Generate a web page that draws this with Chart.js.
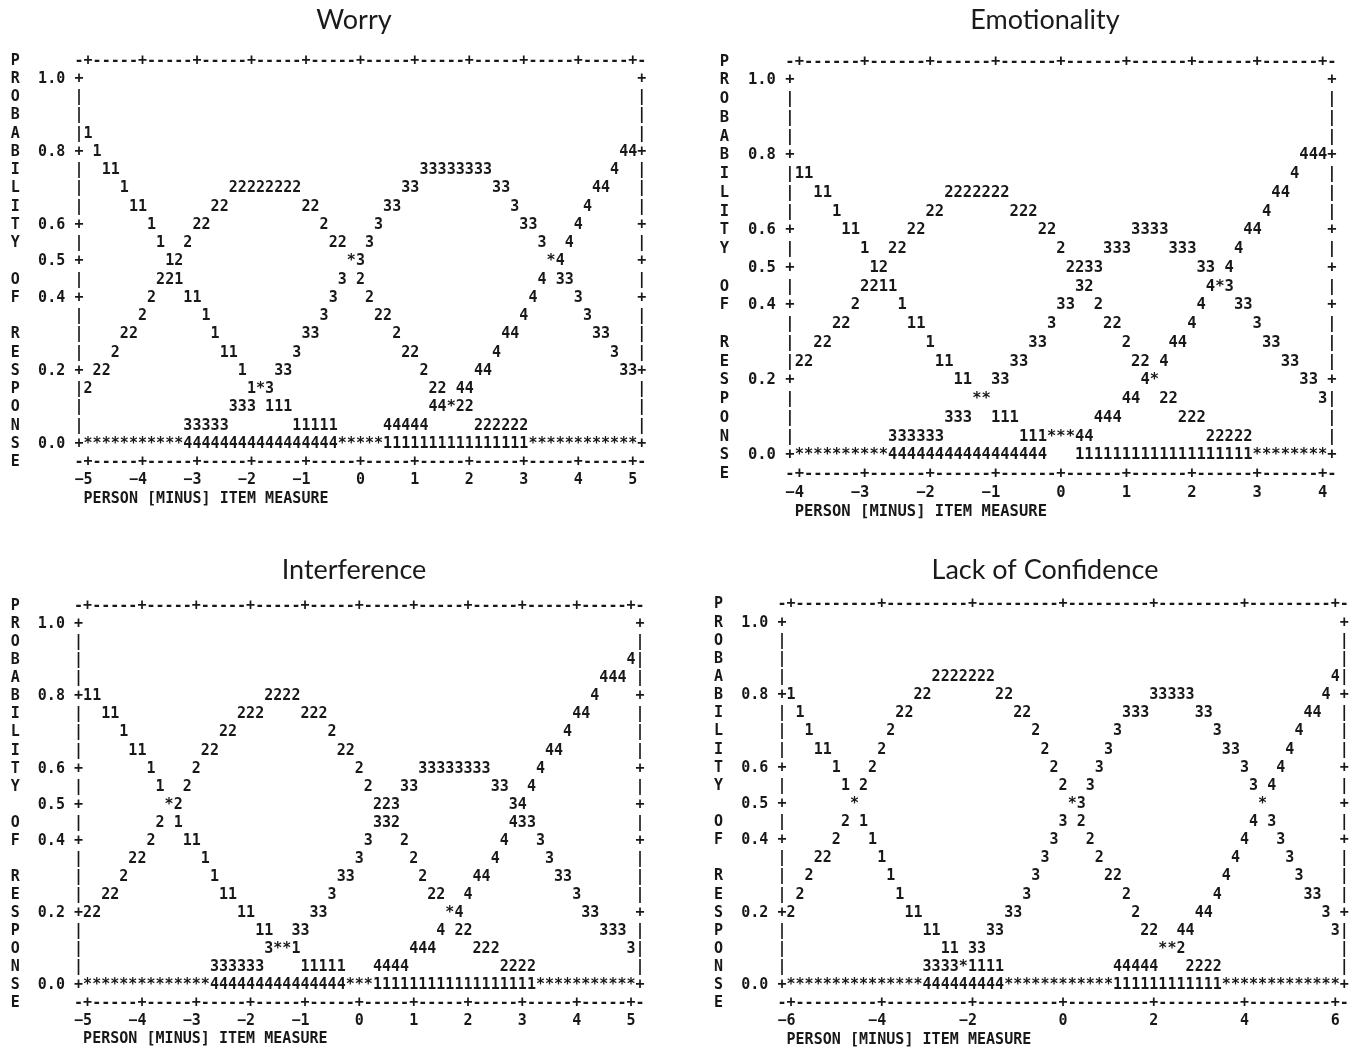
<!DOCTYPE html>
<html>
<head>
<meta charset="utf-8">
<title>Category probability curves</title>
<script src="https://cdn.jsdelivr.net/npm/chart.js@4.4.1/dist/chart.umd.min.js"></script>
<style>
  html, body { margin: 0; padding: 0; background: #ffffff; }
  #board { position: relative; width: 1353px; height: 1049px; overflow: hidden; }
  .panel { position: absolute; }
  .panel canvas { display: block; }
</style>
</head>
<body>
<div id="board">
  <div class="panel" style="left:0px;top:0px;"><canvas id="worry" width="708" height="540"></canvas></div>
  <div class="panel" style="left:676px;top:0px;"><canvas id="emotionality" width="738" height="540"></canvas></div>
  <div class="panel" style="left:0px;top:550px;"><canvas id="interference" width="708" height="499"></canvas></div>
  <div class="panel" style="left:676px;top:550px;"><canvas id="confidence" width="738" height="499"></canvas></div>
</div>
<script>
// ---- Response categories ----
const categories = ['1', '2', '3', '4'];

// ---- Axis labels ----
const probTicks = [1.0, 0.8, 0.6, 0.5, 0.4, 0.2, 0.0];
const probTickLabels = ['1.0', '0.8', '0.6', '0.5', '0.4', '0.2', '0.0'];
const yAxisTitle = 'PROBABILITY OF RESPONSE';
const xAxisTitle = 'PERSON [MINUS] ITEM MEASURE';

const worryTicks = [-5, -4, -3, -2, -1, 0, 1, 2, 3, 4, 5];
const emotionalityTicks = [-4, -3, -2, -1, 0, 1, 2, 3, 4];
const interferenceTicks = [-5, -4, -3, -2, -1, 0, 1, 2, 3, 4, 5];
const confidenceTicks = [-6, -4, -2, 0, 2, 4, 6];

// ---- Worry: probability of each category at each plotted column ----
const worryCat1 = [
  .85, .80, .75, .75, .70, .65, .65, .60, .55, .50,
  .45, .40, .40, .35, .30, .25, .25, .20, .15, .15,
  .10, .10, .10, .05, .05, .05, .05, .05, 0, 0,
  0, 0, 0, 0, 0, 0, 0, 0, 0, 0,
  0, 0, 0, 0, 0, 0, 0, 0, 0, 0,
  0, 0, 0, 0, 0, 0, 0, 0, 0, 0,
  0];
const worryCat2 = [
  .15, .20, .20, .25, .30, .30, .35, .40, .45, .45,
  .50, .55, .60, .60, .65, .65, .70, .70, .70, .70,
  .70, .70, .70, .70, .65, .65, .60, .55, .55, .50,
  .45, .40, .35, .35, .30, .25, .25, .20, .15, .15,
  .10, .10, .10, .05, .05, .05, .05, .05, .05, 0,
  0, 0, 0, 0, 0, 0, 0, 0, 0, 0,
  0];
const worryCat3 = [
  0, 0, 0, 0, 0, 0, 0, 0, 0, 0,
  0, .05, .05, .05, .05, .05, .10, .10, .10, .15,
  .15, .20, .20, .25, .30, .30, .35, .40, .45, .50,
  .50, .55, .60, .65, .65, .70, .70, .75, .75, .75,
  .75, .75, .75, .75, .75, .70, .70, .65, .60, .60,
  .55, .50, .45, .45, .40, .35, .30, .30, .25, .20,
  .20];
const worryCat4 = [
  0, 0, 0, 0, 0, 0, 0, 0, 0, 0,
  0, 0, 0, 0, 0, 0, 0, 0, 0, 0,
  0, 0, 0, 0, 0, 0, 0, 0, 0, 0,
  0, 0, 0, .05, .05, .05, .05, .05, .10, .10,
  .10, .15, .15, .20, .20, .25, .30, .30, .35, .40,
  .45, .50, .50, .55, .60, .65, .70, .70, .75, .80,
  .80];

// ---- Emotionality ----
const emotionalityCat1 = [
  .75, .75, .70, .70, .65, .60, .60, .55, .50, .45,
  .45, .40, .35, .35, .30, .25, .25, .20, .20, .15,
  .15, .10, .10, .10, .05, .05, .05, .05, .05, .05,
  0, 0, 0, 0, 0, 0, 0, 0, 0, 0,
  0, 0, 0, 0, 0, 0, 0, 0, 0, 0,
  0, 0, 0, 0, 0, 0, 0];
const emotionalityCat2 = [
  .25, .25, .30, .30, .35, .35, .40, .45, .45, .50,
  .55, .55, .60, .60, .65, .65, .70, .70, .70, .70,
  .70, .70, .70, .65, .65, .65, .60, .60, .55, .50,
  .50, .45, .40, .35, .35, .30, .25, .25, .20, .15,
  .15, .10, .10, .10, .05, .05, .05, .05, .05, 0,
  0, 0, 0, 0, 0, 0, 0];
const emotionalityCat3 = [
  0, 0, 0, 0, 0, 0, 0, 0, 0, 0,
  .05, .05, .05, .05, .05, .05, .10, .10, .10, .15,
  .15, .20, .20, .25, .25, .30, .30, .35, .40, .40,
  .45, .50, .50, .55, .55, .55, .60, .60, .60, .60,
  .55, .55, .55, .50, .50, .45, .45, .40, .40, .35,
  .30, .30, .25, .25, .20, .20, .15];
const emotionalityCat4 = [
  0, 0, 0, 0, 0, 0, 0, 0, 0, 0,
  0, 0, 0, 0, 0, 0, 0, 0, 0, 0,
  0, 0, 0, 0, 0, 0, 0, .05, .05, .05,
  .05, .05, .10, .10, .10, .15, .15, .20, .20, .25,
  .30, .30, .35, .40, .45, .45, .50, .55, .60, .60,
  .65, .70, .70, .75, .80, .80, .80];

// ---- Interference ----
const interferenceCat1 = [
  .80, .80, .75, .75, .70, .65, .65, .60, .55, .50,
  .45, .40, .40, .35, .30, .25, .25, .20, .20, .15,
  .15, .10, .10, .10, .05, .05, .05, .05, .05, 0,
  0, 0, 0, 0, 0, 0, 0, 0, 0, 0,
  0, 0, 0, 0, 0, 0, 0, 0, 0, 0,
  0, 0, 0, 0, 0, 0, 0, 0, 0, 0,
  0];
const interferenceCat2 = [
  .20, .20, .25, .25, .30, .35, .35, .40, .45, .50,
  .50, .55, .60, .65, .65, .70, .70, .75, .75, .75,
  .80, .80, .80, .80, .75, .75, .75, .70, .65, .65,
  .60, .55, .50, .50, .45, .40, .35, .30, .25, .25,
  .20, .15, .15, .10, .10, .10, .05, .05, .05, .05,
  0, 0, 0, 0, 0, 0, 0, 0, 0, 0,
  0];
const interferenceCat3 = [
  0, 0, 0, 0, 0, 0, 0, 0, 0, 0,
  0, 0, 0, 0, .05, .05, .05, .05, .05, .05,
  .10, .10, .10, .15, .15, .20, .20, .25, .30, .30,
  .35, .40, .45, .45, .50, .55, .55, .60, .60, .60,
  .60, .60, .60, .60, .60, .55, .55, .50, .45, .45,
  .40, .35, .30, .30, .25, .20, .20, .15, .15, .15,
  .10];
const interferenceCat4 = [
  0, 0, 0, 0, 0, 0, 0, 0, 0, 0,
  0, 0, 0, 0, 0, 0, 0, 0, 0, 0,
  0, 0, 0, 0, 0, 0, 0, 0, 0, 0,
  0, 0, .05, .05, .05, .05, .10, .10, .10, .15,
  .20, .20, .25, .30, .30, .35, .40, .45, .50, .55,
  .60, .65, .65, .70, .75, .75, .80, .85, .85, .85,
  .90];

// ---- Lack of Confidence ----
const confidenceCat1 = [
  .80, .75, .70, .65, .65, .60, .55, .50, .45, .40,
  .35, .30, .25, .20, .20, .15, .15, .10, .10, .05,
  .05, .05, .05, .05, 0, 0, 0, 0, 0, 0,
  0, 0, 0, 0, 0, 0, 0, 0, 0, 0,
  0, 0, 0, 0, 0, 0, 0, 0, 0, 0,
  0, 0, 0, 0, 0, 0, 0, 0, 0, 0,
  0];
const confidenceCat2 = [
  .20, .25, .30, .35, .35, .40, .45, .50, .55, .60,
  .65, .70, .75, .75, .80, .80, .85, .85, .85, .85,
  .85, .85, .85, .80, .80, .75, .75, .70, .65, .60,
  .55, .50, .45, .40, .35, .30, .30, .25, .20, .15,
  .15, .10, .10, .10, .05, .05, .05, .05, 0, 0,
  0, 0, 0, 0, 0, 0, 0, 0, 0, 0,
  0];
const confidenceCat3 = [
  0, 0, 0, 0, 0, 0, 0, 0, 0, 0,
  0, 0, 0, 0, 0, .05, .05, .05, .05, .05,
  .10, .10, .15, .15, .20, .20, .25, .30, .35, .40,
  .45, .50, .50, .55, .60, .65, .70, .75, .75, .75,
  .80, .80, .80, .80, .80, .75, .75, .70, .65, .65,
  .60, .55, .50, .45, .40, .35, .30, .25, .25, .20,
  .15];
const confidenceCat4 = [
  0, 0, 0, 0, 0, 0, 0, 0, 0, 0,
  0, 0, 0, 0, 0, 0, 0, 0, 0, 0,
  0, 0, 0, 0, 0, 0, 0, 0, 0, 0,
  0, 0, 0, 0, 0, 0, .05, .05, .05, .05,
  .05, .10, .10, .15, .15, .20, .20, .25, .30, .35,
  .40, .45, .50, .55, .60, .65, .70, .75, .75, .80,
  .85];

// Measure value of every character column of a text-mode plot.
function columnMeasures(start, perUnit, count) {
  return Array.from({ length: count }, (_, i) => start + i / perUnit);
}

const TITLE_SIZE = 27;
const TITLE_PAD = 4;
const INK = '#181818';
const MONO = '"DejaVu Sans Mono", "Liberation Mono", monospace';

// Draws the curves as category digits (a star where curves share a cell)
// and the character-cell frame, ticks and axis captions around them.
const textModePlot = {
  id: 'textModePlot',
  afterDatasetsDraw(chart, args, o) {
    const ctx = chart.ctx;
    const xs = chart.scales.x, ys = chart.scales.y;
    const colX = c => xs.getPixelForValue(o.xStart + c / o.perUnit);
    const rowY = p => ys.getPixelForValue(p) + o.shift;
    ctx.save();
    ctx.font = 'bold ' + o.fontSize + 'px ' + MONO;
    ctx.fillStyle = INK;
    ctx.textAlign = 'center';
    ctx.textBaseline = 'middle';
    const put = (ch, c, p) => { if (ch !== ' ') ctx.fillText(ch, colX(c), rowY(p)); };

    // plotted curves
    const cells = new Map();
    chart.data.datasets.forEach((ds, di) => {
      const meta = chart.getDatasetMeta(di);
      meta.data.forEach((pt, i) => {
        const key = i + ':' + Math.round(ds.data[i].y * 20);
        const cell = cells.get(key);
        if (cell) cell.n += 1;
        else cells.set(key, { n: 1, ch: ds.label, x: pt.x, y: pt.y });
      });
    });
    cells.forEach(cell => ctx.fillText(cell.n > 1 ? '*' : cell.ch, cell.x, cell.y + o.shift));

    // frame
    const last = chart.data.datasets[0].data.length - 1;
    const right = last + 1;
    const tickCols = o.ticks.map(t => Math.round((t - o.xStart) * o.perUnit));
    [1.05, -0.05].forEach(p => {
      for (let c = -1; c <= right; c++) put(tickCols.includes(c) ? '+' : '-', c, p);
    });
    for (let r = 0; r <= 20; r++) {
      const p = r / 20;
      const isTick = probTicks.some(t => Math.abs(t - p) < 1e-6);
      put(isTick ? '+' : '|', -1, p);
      put(isTick ? '+' : '|', right, p);
    }
    // probability labels
    probTicks.forEach((t, i) => {
      const s = probTickLabels[i];
      for (let k = 0; k < s.length; k++) put(s[k], -5 + k, t);
    });
    // measure labels, right-aligned on their tick column, with a true minus sign
    o.ticks.forEach((t, i) => {
      const s = String(t).replace('-', '\u2212');
      const endCol = tickCols[i];
      for (let k = 0; k < s.length; k++) put(s[k], endCol - s.length + 1 + k, -0.10);
    });
    // axis captions
    for (let k = 0; k < xAxisTitle.length; k++) put(xAxisTitle[k], k, -0.15);
    for (let k = 0; k < yAxisTitle.length; k++) put(yAxisTitle[k], -8, 1.05 - k * 0.05);
    ctx.restore();
  }
};

function buildChart(canvasId, spec) {
  const measures = columnMeasures(spec.xStart, spec.perUnit, spec.series[0].length);
  const pxPerUnit = spec.colW * spec.perUnit;
  const xMin = spec.xStart - spec.col0 / pxPerUnit;
  const xMax = xMin + spec.width / pxPerUnit;
  const titleBlock = TITLE_SIZE * 1.2 + TITLE_PAD * 2;
  const pxPerProb = 20 * spec.rowH;
  const yMax = 1 + (spec.row1 - titleBlock) / pxPerProb;
  const yMin = yMax - (spec.height - titleBlock) / pxPerProb;

  const datasets = spec.series.map((values, k) => ({
    label: categories[k],
    data: values.map((p, i) => ({ x: measures[i], y: p })),
    pointRadius: 0,
    pointHoverRadius: 0,
    showLine: false
  }));

  return new Chart(document.getElementById(canvasId), {
    type: 'scatter',
    data: { datasets },
    plugins: [textModePlot],
    options: {
      responsive: false,
      animation: false,
      events: [],
      layout: { padding: 0 },
      scales: {
        x: { type: 'linear', display: false, bounds: 'data', min: xMin, max: xMax },
        y: { type: 'linear', display: false, bounds: 'data', min: yMin, max: yMax }
      },
      plugins: {
        legend: { display: false },
        tooltip: { enabled: false },
        title: {
          display: true,
          text: spec.title,
          color: '#1a1a1a',
          font: { family: 'Lato, "Open Sans", sans-serif', size: TITLE_SIZE, weight: 'normal' },
          padding: { top: TITLE_PAD, bottom: TITLE_PAD }
        },
        textModePlot: {
          xStart: spec.xStart,
          perUnit: spec.perUnit,
          ticks: spec.ticks,
          fontSize: spec.fontSize,
          shift: 1
        }
      }
    }
  });
}

// col0 / row1: pixel of the first plotted column and of probability 1.0 inside each canvas
buildChart('worry', {
  title: 'Worry', width: 708, height: 540,
  col0: 88.0, colW: 9.08, perUnit: 6, xStart: -5,
  row1: 78, rowH: 18.25, fontSize: 15,
  ticks: worryTicks, series: [worryCat1, worryCat2, worryCat3, worryCat4]
});
buildChart('emotionality', {
  title: 'Emotionality', width: 738, height: 540,
  col0: 799.3 - 676, colW: 9.346, perUnit: 7, xStart: -4,
  row1: 79.3, rowH: 18.75, fontSize: 15.5,
  ticks: emotionalityTicks, series: [emotionalityCat1, emotionalityCat2, emotionalityCat3, emotionalityCat4]
});
buildChart('interference', {
  title: 'Interference', width: 708, height: 499,
  col0: 87.6, colW: 9.057, perUnit: 6, xStart: -5,
  row1: 623.3 - 550, rowH: 18.05, fontSize: 15,
  ticks: interferenceTicks, series: [interferenceCat1, interferenceCat2, interferenceCat3, interferenceCat4]
});
buildChart('confidence', {
  title: 'Lack of Confidence', width: 738, height: 499,
  col0: 791 - 676, colW: 9.07, perUnit: 5, xStart: -6,
  row1: 621.7 - 550, rowH: 18.13, fontSize: 15,
  ticks: confidenceTicks, series: [confidenceCat1, confidenceCat2, confidenceCat3, confidenceCat4]
});
</script>
</body>
</html>
